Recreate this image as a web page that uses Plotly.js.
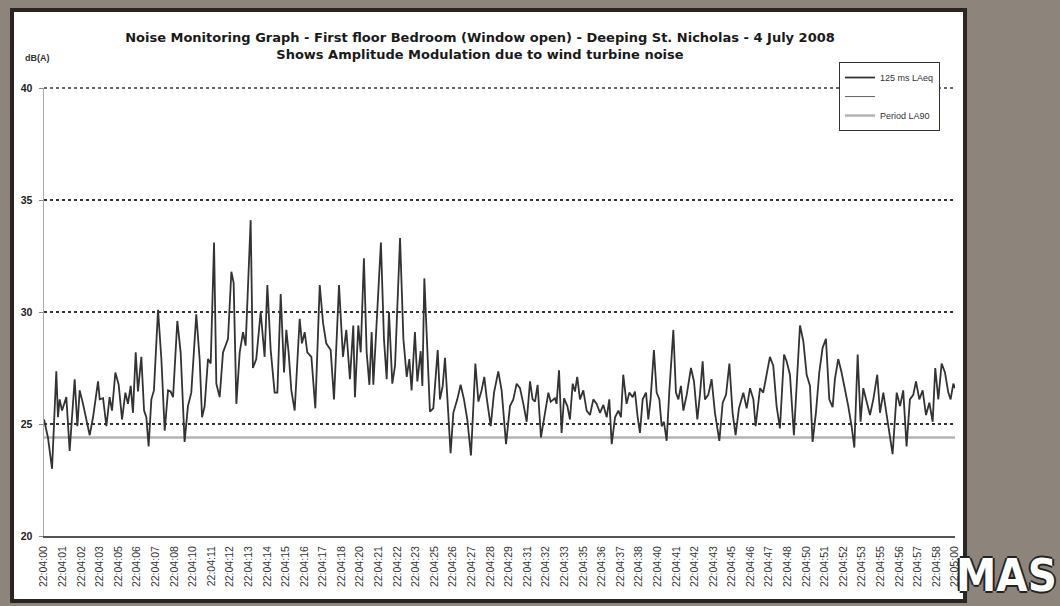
<!DOCTYPE html>
<html>
<head>
<meta charset="utf-8">
<script src="https://cdn.plot.ly/plotly-3.0.1.min.js"></script>
<style>
html,body{margin:0;padding:0;background:#8d847b;}
#chart{width:1060px;height:606px;}
</style>
</head>
<body>
<div id="chart"></div>
<script>
// Time (seconds after 22:04:00) of each 125 ms LAeq reading
const seconds = [
0.00,0.26,0.53,0.81,0.92,1.03,1.19,1.32,1.47,1.69,1.87,2.02,2.20,2.35,2.57,2.79,3.01,3.23,3.56,3.67,
3.89,4.11,4.32,4.48,4.70,4.92,5.14,5.36,5.53,5.71,5.86,6.04,6.19,6.41,6.59,6.74,6.89,7.07,7.24,7.51,
7.73,7.95,8.17,8.34,8.50,8.78,9.00,9.26,9.48,9.70,10.03,10.25,10.41,10.58,10.80,10.98,11.20,11.35,11.57,11.79,
12.12,12.34,12.49,12.67,12.89,13.11,13.28,13.61,13.76,13.98,14.27,14.53,14.71,14.93,15.19,15.37,15.59,15.81,15.96,16.11,
16.29,16.51,16.84,16.99,17.17,17.34,17.61,17.87,18.16,18.38,18.59,18.88,19.10,19.43,19.69,19.91,
20.15,20.37,20.48,20.70,20.86,21.07,21.25,21.43,21.58,21.69,21.95,22.19,22.39,22.57,22.72,22.94,23.12,23.45,23.67,23.89,
24.06,24.21,24.43,24.59,24.81,24.92,25.05,25.25,25.42,25.64,25.93,26.08,26.26,26.41,26.56,26.78,26.96,27.22,27.44,27.66,
27.88,28.12,28.28,28.41,28.61,28.82,29.00,29.15,29.42,29.64,29.92,30.14,30.25,30.43,30.69,30.91,31.13,31.35,31.57,31.79,
32.01,32.18,32.34,32.51,32.73,32.93,33.22,33.37,33.65,33.76,33.92,34.09,34.25,34.47,34.64,34.82,34.97,35.12,35.30,35.52,
35.74,35.96,36.18,36.40,36.62,36.84,37.06,37.23,37.39,37.61,37.83,38.00,38.15,38.37,38.55,38.77,38.92,39.10,39.25,39.43,
39.65,39.80,
39.95,40.17,40.35,40.53,40.68,40.83,41.01,41.18,41.45,41.62,41.78,41.95,42.11,42.33,42.61,42.81,43.03,43.20,43.38,43.53,
43.75,43.97,44.19,44.48,44.70,44.92,45.14,45.35,45.55,45.77,46.06,46.28,46.50,46.72,46.87,47.16,47.37,47.59,47.81,48.03,
48.25,48.47,48.74,48.91,49.13,49.39,49.57,49.79,50.01,50.23,50.45,50.62,50.84,51.06,51.28,51.50,51.72,51.94,52.09,52.31,
52.53,52.75,52.97,53.19,53.37,53.59,53.78,53.96,54.18,54.40,54.62,54.88,55.06,55.28,55.50,55.72,55.89,56.16,56.38,56.59,
56.81,57.03,57.25,57.43,57.65,57.87,58.09,58.31,58.53,58.70,58.90,59.12,59.34,59.56,59.71,59.89,60.00
];

// 125 ms LAeq, dB(A)
const laeq = [
25.2,24.4,23.0,27.35,25.3,26.1,25.6,25.9,26.2,23.8,25.5,27.0,24.9,26.5,25.9,25.2,24.5,25.3,26.9,26.1,
26.15,24.9,26.2,25.6,27.3,26.75,25.2,26.4,25.9,26.7,25.5,28.2,26.45,28.0,25.6,25.3,24.0,26.1,26.5,30.1,
27.9,24.7,26.5,26.45,26.2,29.6,28.2,24.2,25.8,26.4,29.9,27.9,25.3,25.8,27.9,27.7,33.1,26.8,26.2,28.2,
28.8,31.8,31.3,25.9,28.2,29.1,28.5,34.1,27.5,27.9,30.0,28.0,31.2,28.3,26.4,26.4,30.8,27.3,29.2,28.2,
26.5,25.6,29.7,28.6,29.1,28.2,28.0,25.7,31.2,29.5,28.6,28.3,26.1,31.2,28.0,29.2,
27.0,29.4,26.2,29.4,28.2,32.4,28.2,26.75,29.1,26.75,30.1,33.1,28.8,27.0,30.0,26.8,27.6,33.3,28.8,27.1,
27.9,26.5,29.1,26.9,28.25,26.7,31.5,28.6,25.55,25.7,28.3,26.1,26.7,27.95,26.1,23.7,25.5,26.1,26.75,26.1,
25.2,23.6,25.8,27.7,26.0,26.5,27.1,26.2,24.9,26.4,27.35,26.5,25.6,24.1,25.8,26.1,26.8,26.6,25.9,25.1,
26.9,26.1,26.0,26.75,24.4,25.2,26.4,26.0,26.15,25.9,27.4,24.6,26.15,25.8,25.2,26.8,26.45,27.1,26.1,26.5,
25.6,25.4,26.1,25.9,25.5,25.85,25.3,26.1,24.1,25.3,25.6,25.3,27.2,25.9,26.4,26.2,26.45,25.3,24.6,26.1,
26.4,25.2,
26.1,28.3,26.4,26.1,24.9,25.1,24.25,26.4,29.2,26.4,26.1,26.7,25.6,26.3,27.5,26.9,25.2,26.3,27.8,26.1,
26.3,27.0,25.5,24.25,25.95,26.3,27.7,25.5,24.5,25.7,26.4,25.7,26.6,26.1,24.9,26.6,26.4,27.2,28.0,27.6,
25.8,24.8,28.1,27.8,27.2,24.5,26.6,29.4,28.7,27.2,26.7,24.2,25.5,27.3,28.4,28.8,26.1,25.75,27.0,27.9,
27.3,26.6,25.8,24.9,23.95,28.1,25.1,26.6,26.0,25.4,26.1,27.2,25.5,26.4,25.4,24.3,23.65,26.4,25.8,26.5,
24.0,26.1,26.3,26.9,26.1,26.5,25.4,25.95,25.1,27.5,26.1,27.7,27.3,26.4,26.1,26.8,26.6
];

// Period LA90, dB(A)
const la90 = 24.4;

// Category labels along the time axis
const tickLabels = [
"22:04:00","22:04:01","22:04:02","22:04:03","22:04:05","22:04:06","22:04:07","22:04:08","22:04:10","22:04:11",
"22:04:12","22:04:13","22:04:14","22:04:15","22:04:16","22:04:17","22:04:18","22:04:20","22:04:21","22:04:22",
"22:04:23","22:04:25","22:04:26","22:04:27","22:04:28","22:04:29","22:04:31","22:04:32","22:04:33","22:04:35",
"22:04:36","22:04:37","22:04:38","22:04:40","22:04:41","22:04:42","22:04:43","22:04:45","22:04:46","22:04:47",
"22:04:48","22:04:50","22:04:51","22:04:52","22:04:53","22:04:55","22:04:56","22:04:57","22:04:58","22:05:00"
];

const yTicks = [20, 25, 30, 35, 40];

const tStart = seconds[0];
const tEnd = seconds[seconds.length - 1];
const tickVals = tickLabels.map((_, i) => tStart + i * (tEnd - tStart) / (tickLabels.length - 1));

const font = "Liberation Sans, Arial, sans-serif";

const traces = [
  {
    x: [tStart, tEnd], y: [la90, la90],
    name: "Period LA90", mode: "lines",
    line: {color: "#b4b4b4", width: 2.5},
    legendrank: 3, hoverinfo: "skip"
  },
  {
    x: [tStart], y: [null],
    name: " ", mode: "lines",
    line: {color: "#666", width: 1},
    legendrank: 2, hoverinfo: "skip"
  },
  {
    x: seconds, y: laeq,
    name: "125 ms LAeq", mode: "lines",
    line: {color: "#333", width: 1.8},
    legendrank: 1, hoverinfo: "skip"
  }
];

const layout = {
  width: 1060, height: 606,
  margin: {l: 44, r: 105, t: 88, b: 70, pad: 0},
  paper_bgcolor: "#8d847b",
  plot_bgcolor: "#ffffff",
  font: {family: font, color: "#222"},
  title: {
    text: "Noise Monitoring Graph - First floor Bedroom (Window open) - Deeping St. Nicholas - 4 July 2008<br>Shows Amplitude Modulation due to wind turbine noise",
    font: {family: "DejaVu Sans, Liberation Sans, Arial", size: 13, weight: "bold", color: "#1a1a1a"},
    xref: "container", x: 0.4528, xanchor: "center",
    yref: "container", y: 0.930, yanchor: "top"
  },
  xaxis: {
    range: [tStart, tEnd],
    tickvals: tickVals, ticktext: tickLabels,
    tickangle: -90,
    tickfont: {family: font, size: 10.5, color: "#333"},
    showgrid: false, zeroline: false,
    showline: true, linecolor: "#555", linewidth: 2,
    ticks: "", ticklabelstandoff: 4,
    fixedrange: true
  },
  yaxis: {
    range: [yTicks[0], yTicks[yTicks.length - 1]],
    tickvals: yTicks,
    tickfont: {family: font, size: 10.5, color: "#222", weight: "bold"},
    showgrid: true, gridcolor: "#333", gridwidth: 1.3, griddash: "3px,3px",
    zeroline: false,
    showline: true, linecolor: "#aaa", linewidth: 1.5,
    ticks: "outside", ticklen: 4, tickcolor: "#888",
    ticklabelstandoff: 4,
    fixedrange: true
  },
  legend: {
    x: 0.9835, y: 1.058, xanchor: "right", yanchor: "top",
    bgcolor: "#ffffff", bordercolor: "#333", borderwidth: 1,
    font: {family: font, size: 9, color: "#333"},
    itemwidth: 30, tracegroupgap: 0
  },
  shapes: [
    {
      type: "rect", xref: "paper", yref: "paper", layer: "below",
      x0: -0.0351, x1: 1.0110, y0: -0.1451, y1: 1.1741,
      fillcolor: "#ffffff", line: {color: "#2a2522", width: 4}
    },
    {
      // top gridline along the plot's upper edge (Plotly omits the gridline lying on the edge)
      type: "line", xref: "paper", yref: "paper", layer: "above",
      x0: 0, x1: 1, y0: 1, y1: 1,
      line: {color: "#333", width: 1.3, dash: "3px,3px"}
    }
  ],
  annotations: [
    {
      text: "dB(A)", xref: "paper", yref: "paper",
      x: -0.0066, y: 1.067, xanchor: "center", yanchor: "middle",
      showarrow: false,
      font: {family: font, size: 9, weight: "bold", color: "#333"}
    },
    {
      text: "MAS", xref: "paper", yref: "paper",
      x: 1.114, y: -0.089, xanchor: "right", yanchor: "middle",
      showarrow: false,
      font: {family: "DejaVu Sans Condensed, DejaVu Sans, Liberation Sans", size: 45, weight: "bold", color: "#ffffff",
             shadow: "2px 0 0 #222, -2px 0 0 #222, 0 2px 0 #222, 0 -2px 0 #222"}
    }
  ],
  showlegend: true,
  hovermode: false
};

Plotly.newPlot("chart", traces, layout, {displayModeBar: false, staticPlot: true});
</script>
</body>
</html>
